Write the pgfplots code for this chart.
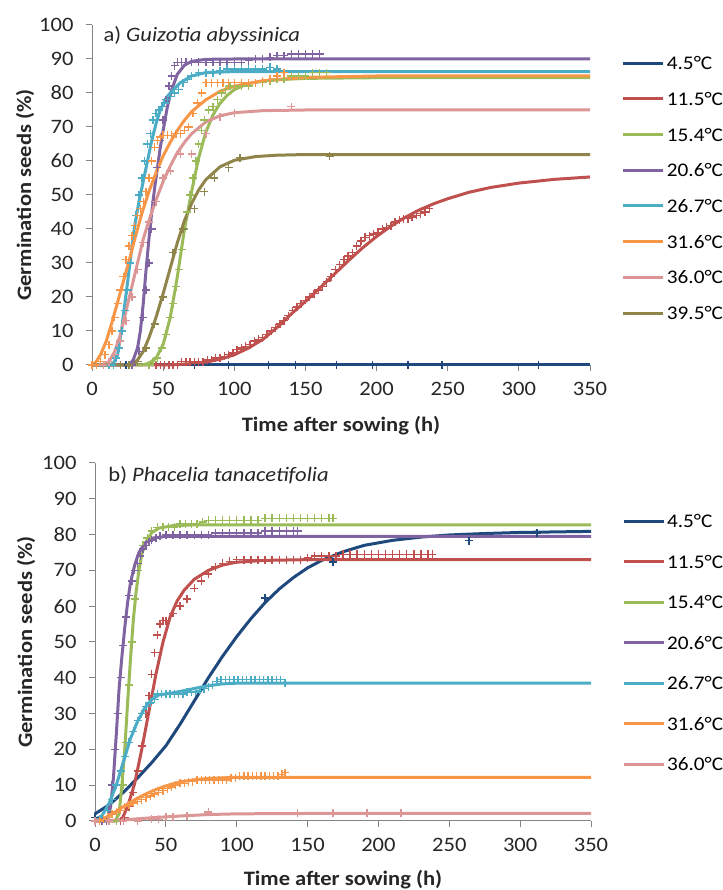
\documentclass[border=0pt]{standalone}
\usepackage{fontspec}
\setmainfont{Carlito}[FakeStretch=1.1]
\usepackage{pgfplots}
\pgfplotsset{compat=1.18}

\definecolor{axgray}{RGB}{134,134,134}
\definecolor{cA}{RGB}{31,73,125}
\definecolor{cB}{RGB}{192,80,77}
\definecolor{cC}{RGB}{155,187,89}
\definecolor{cD}{RGB}{128,100,162}
\definecolor{cE}{RGB}{75,172,198}
\definecolor{cF}{RGB}{247,150,70}
\definecolor{cG}{RGB}{220,150,150}
\definecolor{cH}{RGB}{143,133,75}
\newcommand{\fs}{\fontsize{20.5}{24}\selectfont}
\newcommand{\lfs}{\fontsize{19.3}{23}\selectfont}

\pgfplotsset{
  germ/.style={
    scale only axis,
    xmin=0, xmax=350, ymin=0, ymax=100,
    axis x line=bottom, axis y line=left,
    axis line style={-, draw=axgray, line width=1pt},
    xtick={0,50,...,350}, ytick={0,10,...,100},
    tick align=outside, major tick length=6pt,
    tick style={draw=axgray, line width=1pt},
    tick label style={font=\fs, text=black!85},
    xticklabel style={yshift=-8pt},
    yticklabel style={xshift=-9pt},
    /pgf/number format/assume math mode=true,
    label style={font=\fs\bfseries, text=black!85},
    clip=false,
    legend style={draw=none, fill=none, font=\lfs, anchor=north west,
      inner sep=0pt, outer sep=0pt, legend cell align=left,
      nodes={inner sep=0pt, text height=13pt, text depth=0pt},
      /tikz/every odd column/.append style={column sep=2pt}},
    legend image code/.code={\draw[#1, line width=3pt] (0pt,0pt) -- (40pt,0pt);},
  },
  curve/.style={line width=3pt, line join=round, no marks},
  obs/.style={only marks, mark=+, mark size=4pt, mark options={line width=1.4pt}, forget plot},
}

\begin{document}
\begin{tikzpicture}
\useasboundingbox (0,0) rectangle (722pt,890pt);

%% ---------- panel a ----------
\begin{axis}[germ, width=498pt, height=340pt,
  at={(92pt,525pt)}, anchor=south west,
  xlabel={Time after sowing (h)}, ylabel={Germination seeds (\%)},
  xlabel style={at={(axis description cs:0.5,-0.197)}, anchor=base},
  ylabel style={at={(axis description cs:-0.1345,0.5)}, anchor=center},
  legend style={at={(axis description cs:1.064,0.907)}, row sep=22.7pt},
]
\node[anchor=base west, font=\fs, text=black!85] at (rel axis cs:0.016,0.95) {a) \textit{Guizotia abyssinica}};

\addplot[curve, cA] coordinates {(0,0)(350,0)};
\addlegendentry{4.5°C}
\addplot[obs, cA] coordinates {(0,0)(24,0)(48,0)(72,0)(96,0)(124,0)(143,0)(172,0)(197,0)(222,0)(246,0)(314,0)};

\addplot[curve, cB] coordinates {(0,0)(50,0)(60,0.1)(70,0.4)(80,0.9)(90,1.7)(100,3)(110,5)(120,7.5)(130,11)(140,15)(150,18.7)(160,22.6)(170,26.6)(180,30.6)(190,34.4)(200,37.8)(210,40.8)(220,43.4)(230,45.6)(240,47.4)(250,48.9)(265,50.8)(280,52.2)(300,53.5)(325,54.6)(350,55.3)};
\addlegendentry{11.5°C}
\addplot[obs, cB] coordinates {(45,0)(48,0)(51,0)(54,0)(57,0)(60,0)(63,1)(66,1)(69,1)(72,1)(75,1)(78,1)(81,1.5)(84,1.5)(87,2)(90,2)(93,2.5)(96,3)(99,3.5)(102,4.5)(105,5)(108,5.5)(111,6)(114,7)(117,7.5)(120,8)(123,9)(126,10)(129,11)(132,12)(135,13)(138,14.5)(141,16)(144,17)(147,18)(150,19)(153,20)(156,21)(159,22)(162,23)(165,24.5)(168,26)(171,28)(174,29.5)(177,31)(180,32)(183,33)(186,35)(189,36.5)(192,37.5)(195,38)(198,38.5)(201,39)(204,40)(207,40.5)(210,41)(213,42)(216,42.5)(219,43)(222,43)(225,43.5)(228,44)(231,44.5)(234,45)(237,46)};

\addplot[curve, cC] coordinates {(0,0)(35,0)(40,0.5)(45,2)(50,6)(55,14)(60,26)(65,40)(70,51)(75,61)(80,68.5)(85,73.5)(90,77)(95,79.3)(100,81)(110,82.8)(125,83.8)(150,84.3)(200,84.5)(350,84.5)};
\addlegendentry{15.4°C}
\addplot[obs, cC] coordinates {(40,0)(43,1)(46,2)(49,5)(52,9)(55,14)(57,18)(59,23)(61,28)(63,34)(65,40)(67,45)(69,50)(71,55)(73,60)(75,65)(77,69)(79,72)(82,75)(85,76)(88,78)(91,80)(94,81)(97,82)(100,82)(105,82)(110,82)(115,83)(120,83)(125,83.5)(130,84)(135,84)(140,85)(145,85)(150,85)(155,86)(160,86)(165,86)};

\addplot[curve, cD] coordinates {(0,0)(26,0)(29,1.5)(32,5)(34,10)(36,18)(38,28)(40,37)(42,45)(44,52)(46,58)(48,64)(50,69)(53,76)(56,81)(60,85.5)(65,88.2)(70,89.3)(80,89.9)(100,90)(350,90)};
\addlegendentry{20.6°C}
\addplot[obs, cD] coordinates {(26,0)(28,0)(30,1)(33,4)(36,14)(38,22)(40,30)(42,40)(44,48)(46,58)(48,66)(50,72)(52,78)(54,82)(56,85)(58,88)(60,89)(63,89)(66,89)(70,89)(75,89)(80,89)(85,89)(90,89)(95,89)(100,89)(105,89)(110,89.5)(115,90)(120,90)(125,90.5)(130,91)(135,91)(140,91.5)(145,91.5)(150,91.5)(155,91.5)(160,91.5)};

\addplot[curve, cE] coordinates {(0,0)(12,0)(15,0.5)(18,3)(21,11)(24,21)(27,31)(30,41)(33,48)(36,54)(39,60)(42,66)(45,71)(48,75)(52,78.5)(56,80.5)(62,83)(70,85)(80,86)(100,86.3)(350,86.3)};
\addlegendentry{26.7°C}
\addplot[obs, cE] coordinates {(12,0)(15,0)(17,2)(19,5)(21,10)(23,16)(25,22)(27,30)(29,38)(31,44)(33,50)(35,55)(37,60)(39,65)(41,68)(43,72)(45,74)(47,75)(49,76)(51,77)(53,78)(55,79)(58,80)(61,81)(64,83)(67,84)(70,85)(75,86)(80,86)(85,86)(90,86.5)(95,87)(100,87)(105,87)(110,87)(115,87)(120,87)(125,87.5)(130,87)};

\addplot[curve, cF] coordinates {(0,0)(3,1)(6,3)(10,7)(14,12.5)(18,18.5)(22,24.5)(26,30.5)(30,37)(35,44.5)(40,51)(45,56.5)(50,61.5)(55,65.5)(60,69)(65,72)(70,74.5)(80,78)(90,80.5)(100,82)(120,83.6)(150,84.6)(200,85)(350,85)};
\addlegendentry{31.6°C}
\addplot[obs, cF] coordinates {(0,0)(3,0)(6,1)(9,3)(12,6)(14,10)(16,14)(18,18)(20,22)(22,26)(24,31)(26,35)(28,38)(30,41)(32,44)(34,46)(36,48)(38,51)(40,55)(42,60)(44,64)(46,66)(48,67)(50,67.5)(53,67.5)(56,67.5)(59,68)(62,68)(65,69)(68,70)(71,74)(74,77)(77,80)(80,83)(84,83)(88,83)(92,83)(96,83)(100,83)(105,83)(110,83)(115,83)(120,83.5)(125,84)(130,85)(135,86)};

\addplot[curve, cG] coordinates {(0,0)(8,0)(12,1)(16,4)(20,9)(24,16)(28,23)(32,30)(36,37)(40,42.5)(45,48.5)(50,54)(55,58.5)(60,62.5)(65,65.5)(70,68)(80,71.5)(90,73.3)(100,74.2)(120,74.8)(150,75)(350,75)};
\addlegendentry{36.0°C}
\addplot[obs, cG] coordinates {(8,0)(12,1)(16,3)(20,7)(24,13)(28,20)(32,28)(36,36)(40,42)(45,48)(50,55)(55,57)(62,62)(70,62)(80,68)(90,73)(100,74)(140,76)};

\addplot[curve, cH] coordinates {(0,0)(28,0)(32,1.5)(36,4)(40,8)(45,14)(50,21)(55,28.5)(60,36)(65,42.5)(70,47.5)(75,51.5)(80,54.5)(90,58.3)(100,60.2)(115,61.3)(130,61.7)(150,61.9)(350,61.9)};
\addlegendentry{39.5°C}
\addplot[obs, cH] coordinates {(20,0)(26,0)(32,1)(38,5)(44,12)(50,20)(57,33)(64,40)(72,46)(79,51)(86,55)(96,58)(104,61)(167,61.5)};
\end{axis}

%% ---------- panel b ----------
\begin{axis}[germ, width=496pt, height=358pt,
  at={(95pt,69pt)}, anchor=south west,
  xlabel={Time after sowing (h)}, ylabel={Germination seeds (\%)},
  xlabel style={at={(axis description cs:0.5,-0.179)}, anchor=base},
  ylabel style={at={(axis description cs:-0.139,0.5)}, anchor=center},
  legend style={at={(axis description cs:1.0625,0.855)}, row sep=27.5pt},
]
\node[anchor=base west, font=\fs, text=black!85] at (rel axis cs:0.02,0.947) {b) \textit{Phacelia tanacetifolia}};

\addplot[curve, cA] coordinates {(0,2)(10,4.5)(20,8)(30,12)(40,16.3)(50,21)(60,27)(70,33.5)(80,40)(90,46)(100,51.5)(110,56.5)(120,61)(130,64.8)(140,68)(150,70.7)(160,72.8)(175,75.2)(190,77)(210,78.4)(230,79.3)(250,79.9)(275,80.3)(300,80.6)(350,80.9)};
\addlegendentry{4.5°C}
\addplot[obs, cA] coordinates {(0,1)(120,62.3)(168,72.4)(264,78.3)(312,80.4)};

\addplot[curve, cB] coordinates {(0,0)(15,0)(19,0.5)(23,4)(28,10.5)(33,20)(38,30.5)(43,41)(48,50)(53,57)(58,61.5)(63,64.5)(70,67.5)(80,70)(90,71.5)(100,72.3)(120,72.8)(150,73)(350,73)};
\addlegendentry{11.5°C}
\addplot[obs, cB] coordinates {(15,0)(18,0)(21,1)(24,4)(27,8)(30,14)(33,21)(36,30)(38,35)(40,41)(42,47)(44,52)(46,55)(48,56)(50,56)(55,58)(60,60)(65,62)(70,65)(75,67)(80,69)(85,71)(90,72)(95,72.5)(100,73)(105,73)(110,73)(115,73)(120,73)(125,73)(130,73)(135,73)(140,73)(145,73)(150,73.5)(155,74)(160,74)(165,74)(170,74)(175,74.5)(180,74.5)(185,74.5)(190,74.5)(195,74.5)(200,74.5)(205,74.5)(210,74.5)(215,74.5)(220,74.5)(225,74.5)(230,74.5)(235,74.5)(238,74.5)};

\addplot[curve, cC] coordinates {(0,0)(14,0)(17,2)(19,10)(21,20)(23,33)(25,45)(27,56)(29,64)(31,70)(33,74.5)(36,78)(40,80.5)(45,81.8)(55,82.5)(70,82.7)(350,82.7)};
\addlegendentry{15.4°C}
\addplot[obs, cC] coordinates {(15,0)(18,3)(20,10)(22,22)(24,38)(26,50)(28,62)(30,70)(32,74)(34,77)(37,79)(40,81)(44,82)(48,82)(52,82)(56,82)(60,83)(64,83)(68,83)(72,83)(76,83.5)(80,84)(85,84)(90,84)(95,84)(100,84)(105,84)(110,84)(115,84)(120,84.5)(125,84.5)(130,84.5)(135,84.5)(140,84.5)(145,84.5)(150,84.5)(155,84.5)(160,84.5)(165,84.5)(168,84.5)};

\addplot[curve, cD] coordinates {(0,0)(7,0)(9,0.5)(11,4)(13,12)(15,24)(17,37)(19,46)(21,54)(23,61)(25,66.5)(28,71.5)(31,75)(35,77.5)(40,79)(50,79.5)(350,79.5)};
\addlegendentry{20.6°C}
\addplot[obs, cD] coordinates {(5,0)(8,0)(10,3)(12,10)(14,20)(16,30)(18,40)(20,49)(22,57)(24,63)(26,67)(28,70)(30,72)(32,74)(34,76)(36,77)(38,78)(40,78.5)(43,79)(46,79.5)(50,80)(55,80)(60,80)(65,80)(70,80)(75,80)(80,80)(85,80.5)(90,80.5)(95,80.5)(100,80.5)(105,80.5)(110,80.5)(115,80.5)(120,81)(125,81)(130,81)(135,81)(140,81)(143,81)};

\addplot[curve, cE] coordinates {(0,0.5)(5,1.5)(10,5)(15,10)(20,16.5)(25,23)(30,27.8)(35,31.5)(40,34)(45,35.2)(50,35.5)(55,35.8)(60,36.2)(70,37)(80,37.8)(90,38.3)(100,38.5)(350,38.5)};
\addlegendentry{26.7°C}
\addplot[obs, cE] coordinates {(3,0)(6,1)(9,3)(12,6)(15,10)(18,14)(21,18)(24,22)(27,25)(30,28)(33,30)(36,32)(39,33)(42,34)(44,35.5)(47,35.5)(50,35.5)(53,35.5)(56,35.5)(59,35.5)(62,35.5)(65,36)(68,36)(71,36)(74,36.5)(77,37)(80,37.5)(83,38)(86,39)(89,39.5)(92,39.5)(95,39.5)(98,39.5)(101,39.5)(104,39.5)(107,39.5)(110,39.5)(113,39.5)(116,39.5)(119,39.5)(122,39.5)(125,39.5)(128,39.5)(131,39.5)(134,38.5)};

\addplot[curve, cF] coordinates {(0,0)(5,0.5)(10,1.5)(15,2.7)(20,4)(25,5.2)(30,6.4)(35,7.4)(40,8.3)(45,9.1)(50,9.8)(55,10.4)(60,10.9)(70,11.5)(80,11.9)(100,12.2)(350,12.2)};
\addlegendentry{31.6°C}
\addplot[obs, cF] coordinates {(0,0)(3,0)(6,0.5)(9,1)(12,2)(15,2.5)(18,3)(21,4)(24,4.5)(27,5)(30,5.5)(33,6)(36,6.5)(39,7)(42,7.5)(45,8)(48,8.5)(51,9)(54,9.5)(57,10)(60,10.5)(63,10.5)(66,11)(69,11)(72,11.5)(75,11.5)(78,11.5)(81,11.5)(84,11.5)(87,11.5)(90,11.5)(93,11.5)(96,12)(99,12)(102,12.5)(105,12.5)(108,12.5)(111,12.5)(114,12.5)(117,12.5)(120,12.5)(123,12.5)(126,12.5)(129,12.5)(132,13)(134,13.5)};

\addplot[curve, cG] coordinates {(0,0)(20,0.3)(40,0.9)(60,1.4)(80,1.8)(100,2)(150,2.1)(350,2.1)};
\addlegendentry{36.0°C}
\addplot[obs, cG] coordinates {(0,0)(10,0)(20,0)(30,0)(40,0.5)(45,0.5)(50,1)(55,1)(65,1.5)(80,2.5)(143,2.3)(168,2.3)(192,2.3)(216,2.3)};
\end{axis}
\end{tikzpicture}
\end{document}
